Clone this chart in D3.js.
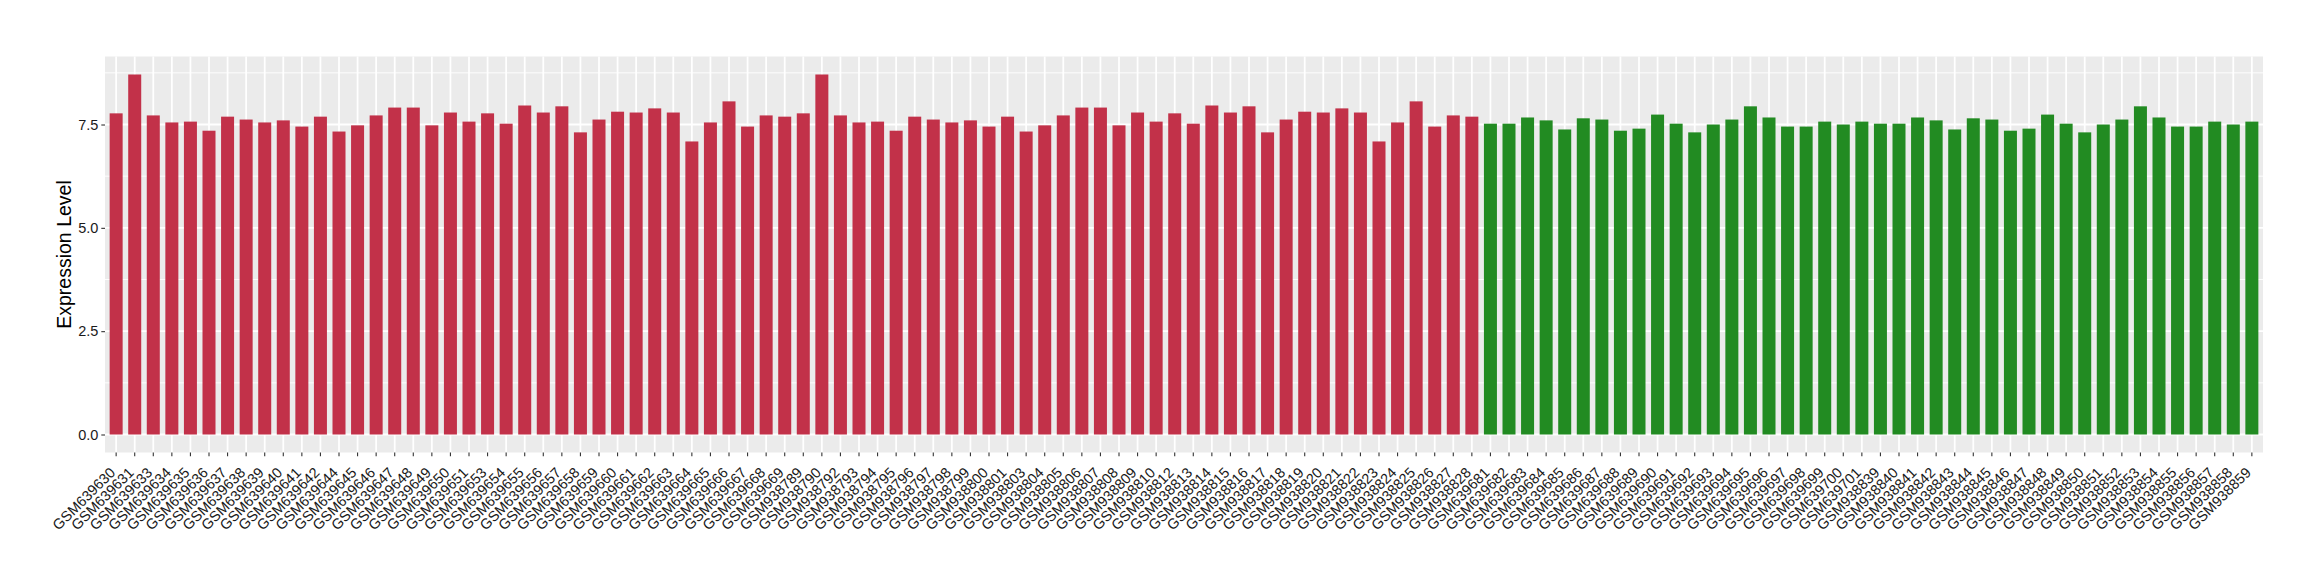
<!DOCTYPE html>
<html>
<head>
<meta charset="utf-8">
<script src="https://cdn.jsdelivr.net/npm/d3@7"></script>
<style>
  body { margin: 0; background: #fff; }
  text { font-family: "Liberation Sans", Arial, Helvetica, sans-serif; }
</style>
</head>
<body>
<div id="chart"></div>
<script>
// red group samples
const caseSamples = [
  "GSM639630","GSM639631","GSM639633","GSM639634","GSM639635","GSM639636","GSM639637","GSM639638",
  "GSM639639","GSM639640","GSM639641","GSM639642","GSM639644","GSM639645","GSM639646","GSM639647",
  "GSM639648","GSM639649","GSM639650","GSM639651","GSM639653","GSM639654","GSM639655","GSM639656",
  "GSM639657","GSM639658","GSM639659","GSM639660","GSM639661","GSM639662","GSM639663","GSM639664",
  "GSM639665","GSM639666","GSM639667","GSM639668","GSM639669",
  "GSM938789","GSM938790","GSM938792","GSM938793","GSM938794","GSM938795","GSM938796","GSM938797",
  "GSM938798","GSM938799","GSM938800","GSM938801","GSM938803","GSM938804","GSM938805","GSM938806",
  "GSM938807","GSM938808","GSM938809","GSM938810","GSM938812","GSM938813","GSM938814","GSM938815",
  "GSM938816","GSM938817","GSM938818","GSM938819","GSM938820","GSM938821","GSM938822","GSM938823",
  "GSM938824","GSM938825","GSM938826","GSM938827","GSM938828"
]
const caseValues = [
  7.77, 8.71, 7.72, 7.55, 7.57, 7.35, 7.69, 7.62, 7.55, 7.60, 7.45, 7.69, 7.33, 7.48, 7.72, 7.91,
  7.91, 7.48, 7.79, 7.57, 7.77, 7.52, 7.96, 7.79, 7.94, 7.31, 7.62, 7.81, 7.79, 7.89, 7.79, 7.09,
  7.55, 8.06, 7.45, 7.72, 7.69,
  7.77, 8.71, 7.72, 7.55, 7.57, 7.35, 7.69, 7.62, 7.55, 7.60, 7.45, 7.69, 7.33, 7.48, 7.72, 7.91,
  7.91, 7.48, 7.79, 7.57, 7.77, 7.52, 7.96, 7.79, 7.94, 7.31, 7.62, 7.81, 7.79, 7.89, 7.79, 7.09,
  7.55, 8.06, 7.45, 7.72, 7.69
]

// green group samples
const controlSamples = [
  "GSM639681","GSM639682","GSM639683","GSM639684","GSM639685","GSM639686","GSM639687","GSM639688",
  "GSM639689","GSM639690","GSM639691","GSM639692","GSM639693","GSM639694","GSM639695","GSM639696",
  "GSM639697","GSM639698","GSM639699","GSM639700","GSM639701",
  "GSM938839","GSM938840","GSM938841","GSM938842","GSM938843","GSM938844","GSM938845","GSM938846",
  "GSM938847","GSM938848","GSM938849","GSM938850","GSM938851","GSM938852","GSM938853","GSM938854",
  "GSM938855","GSM938856","GSM938857","GSM938858","GSM938859"
]
const controlValues = [
  7.52, 7.52, 7.67, 7.60, 7.38, 7.65, 7.62, 7.35, 7.40, 7.74, 7.52, 7.31, 7.50, 7.62, 7.94, 7.67,
  7.45, 7.45, 7.57, 7.50, 7.57,
  7.52, 7.52, 7.67, 7.60, 7.38, 7.65, 7.62, 7.35, 7.40, 7.74, 7.52, 7.31, 7.50, 7.62, 7.94, 7.67,
  7.45, 7.45, 7.57, 7.50, 7.57
]

const yTicks = [0, 2.5, 5, 7.5]
const yMinor = [1.25, 3.75, 6.25, 8.75]
const yTitle = "Expression Level"
const caseColor = "#C23149"
const controlColor = "#228B22"

var width = 2320
var height = 580
const margin = { left: 105, right: 57, top: 56.5, bottom: 127.5 }

const rows = caseSamples.map((s, i) => ({ sample: s, value: caseValues[i], color: caseColor }))
  .concat(controlSamples.map((s, i) => ({ sample: s, value: controlValues[i], color: controlColor })))

const svg = d3.select("#chart")
  .append("svg")
  .attr("width", width)
  .attr("height", height)

svg.append("rect").attr("width", width).attr("height", height).attr("fill", "#fff")

const x = d3.scaleBand()
  .domain(rows.map(d => d.sample))
  .range([margin.left, width - margin.right])
  .paddingInner(0.3)
  .paddingOuter(0.25)

// ggplot style 5% expansion
const yMax = d3.max(rows, d => d.value)
const y = d3.scaleLinear()
  .domain([-yMax * 0.05, yMax * 1.05])
  .range([height - margin.bottom, margin.top])

const g = svg.append("g")

g.append("rect")
  .attr("x", margin.left)
  .attr("y", margin.top)
  .attr("width", width - margin.left - margin.right)
  .attr("height", height - margin.top - margin.bottom)
  .attr("fill", "#EBEBEB")

g.selectAll(".minor")
  .data(yMinor)
  .join("line")
  .attr("x1", margin.left).attr("x2", width - margin.right)
  .attr("y1", d => y(d)).attr("y2", d => y(d))
  .attr("stroke", "#fff").attr("stroke-width", 0.9)

g.selectAll(".major")
  .data(yTicks)
  .join("line")
  .attr("x1", margin.left).attr("x2", width - margin.right)
  .attr("y1", d => y(d)).attr("y2", d => y(d))
  .attr("stroke", "#fff").attr("stroke-width", 1.8)

g.selectAll(".vgrid")
  .data(rows)
  .join("line")
  .attr("x1", d => x(d.sample) + x.bandwidth() / 2)
  .attr("x2", d => x(d.sample) + x.bandwidth() / 2)
  .attr("y1", margin.top).attr("y2", height - margin.bottom)
  .attr("stroke", "#fff").attr("stroke-width", 1.8)

g.selectAll(".bar")
  .data(rows)
  .join("rect")
  .attr("x", d => x(d.sample))
  .attr("width", x.bandwidth())
  .attr("y", d => y(d.value))
  .attr("height", d => y(0) - y(d.value))
  .attr("fill", d => d.color)

// y axis
const yAxis = g.append("g")
  .attr("transform", "translate(" + margin.left + ",0)")
  .call(d3.axisLeft(y).tickValues(yTicks).tickFormat(d3.format(".1f")).tickSize(3.7).tickPadding(3))
yAxis.select(".domain").remove()
yAxis.selectAll(".tick line").attr("stroke", "#333").attr("stroke-width", 1.1)
yAxis.selectAll(".tick text").attr("fill", "#1a1a1a").attr("font-size", "14.5px")

// x axis
const xAxis = g.append("g")
  .attr("transform", "translate(0," + (height - margin.bottom) + ")")
  .call(d3.axisBottom(x).tickSize(3.7).tickSizeOuter(0))
xAxis.select(".domain").remove()
xAxis.selectAll(".tick line").attr("stroke", "#333").attr("stroke-width", 1.1)
xAxis.selectAll(".tick text")
  .attr("fill", "#1a1a1a")
  .attr("font-size", "14.5px")
  .attr("text-anchor", "end")
  .attr("dy", null)
  .attr("y", 0)
  .attr("transform", "translate(0,21) rotate(-45)")

svg.append("text")
  .attr("transform", "translate(71," + ((margin.top + height - margin.bottom) / 2) + ") rotate(-90)")
  .attr("text-anchor", "middle")
  .attr("font-size", "19.5px")
  .attr("fill", "#000")
  .text(yTitle)
</script>
</body>
</html>
